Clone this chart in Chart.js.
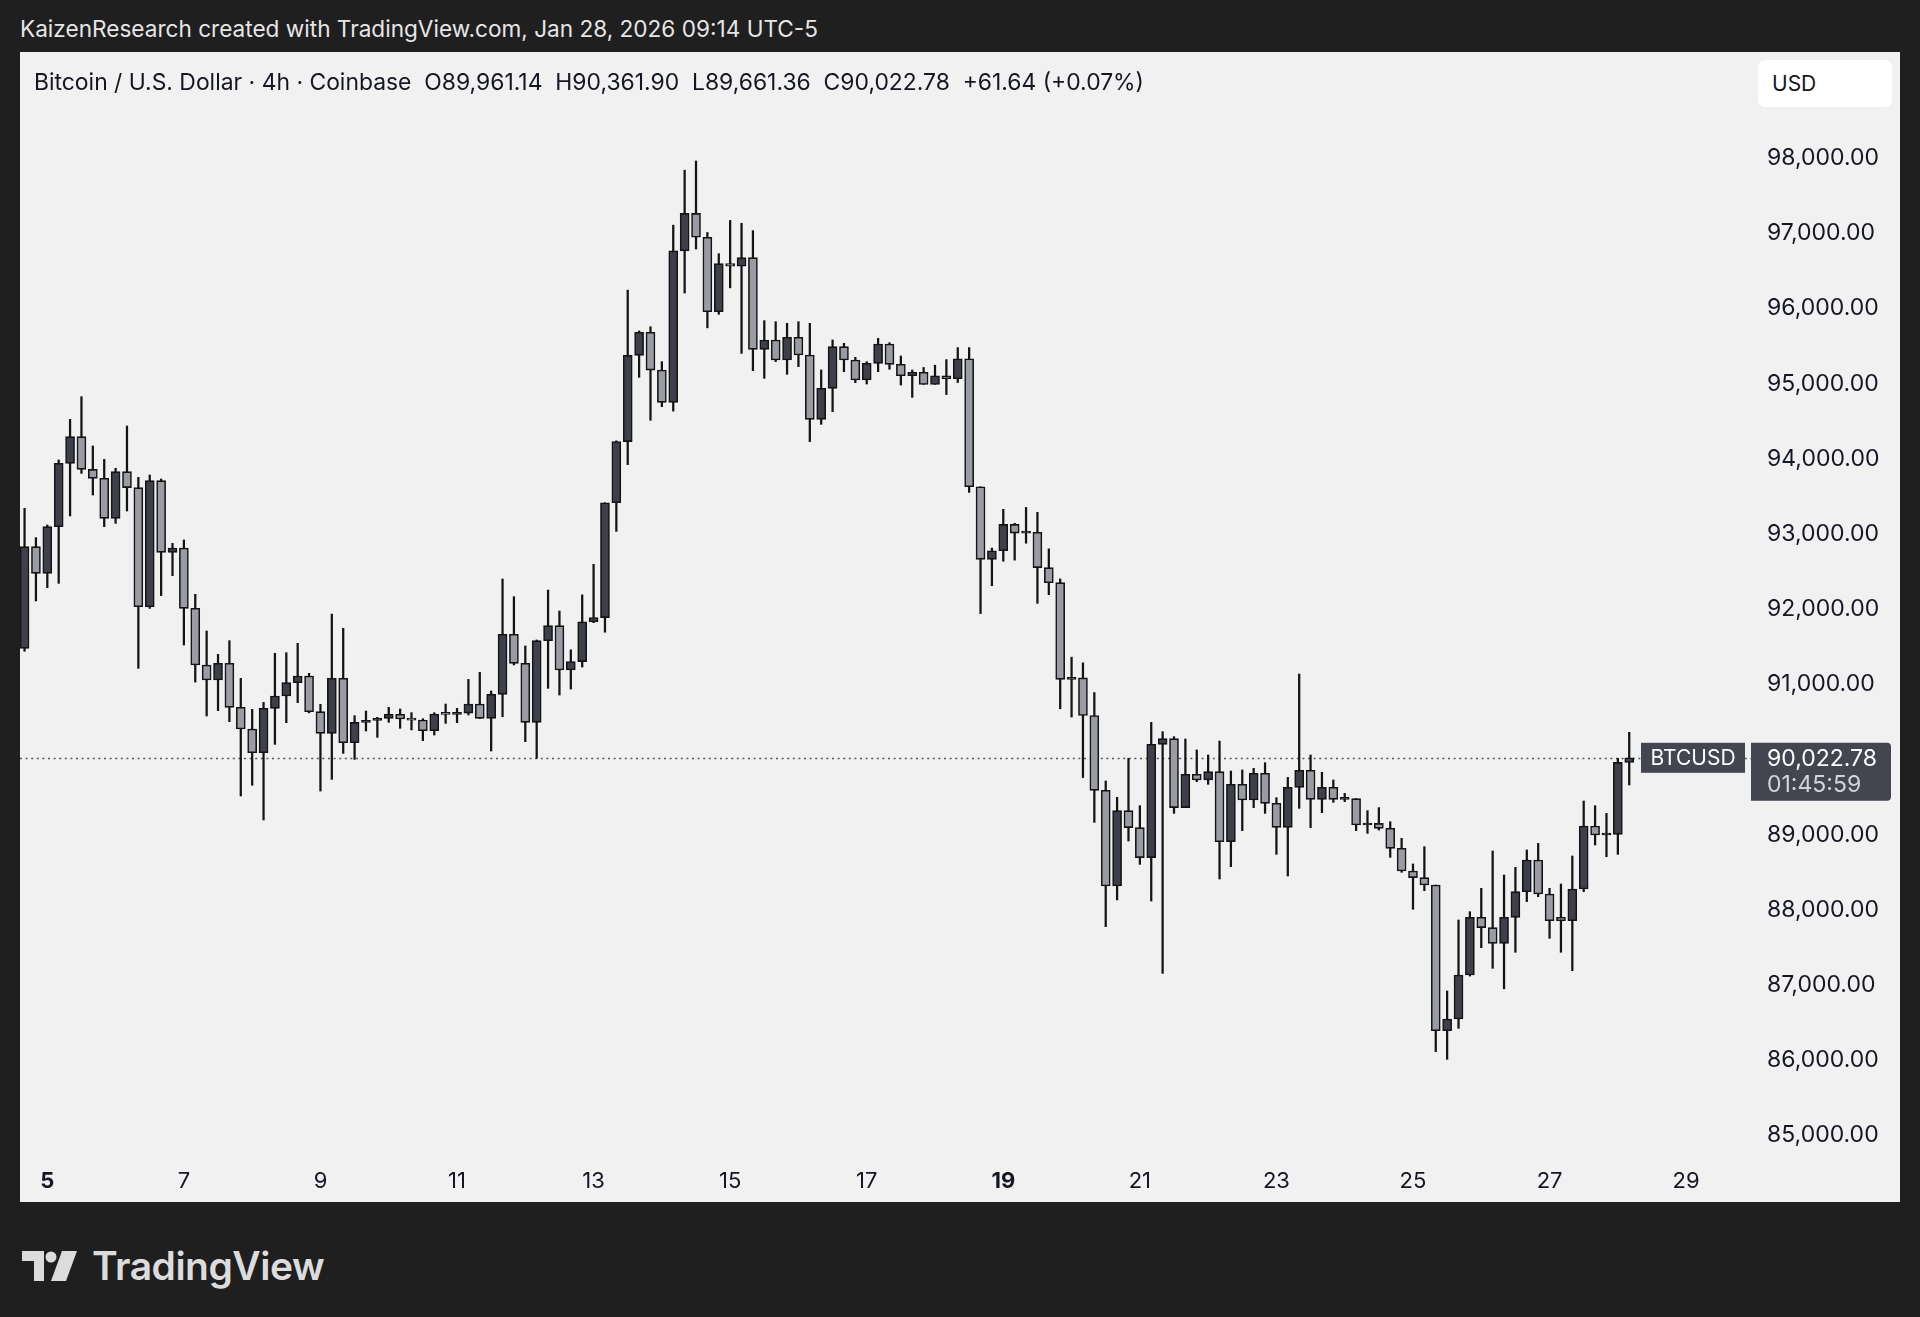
<!DOCTYPE html>
<html>
<head>
<meta charset="utf-8">
<script src="https://cdn.jsdelivr.net/npm/chart.js@4.4.1/dist/chart.umd.min.js"></script>
<style>
html, body { margin: 0; padding: 0; background: #1f1f1f; width: 1920px; height: 1317px; overflow: hidden; font-family: Inter, "Noto Sans", sans-serif; }
#credit { position: absolute; left: 20px; top: 15px; color: #e6e6e6; font-size: 22.6px; }
#panel { position: absolute; left: 20px; top: 52px; width: 1880px; height: 1150px; background: #f1f1f1; }
#legend { position: absolute; left: 14px; top: 16px; font-size: 22.9px; color: #131722; white-space: pre; }
#usd { position: absolute; left: 1738px; top: 8px; width: 134px; height: 47px; background: #fff; border-radius: 7px; font-size: 21px; color: #131722; line-height: 47px; box-sizing: border-box; padding-left: 14px; }
#logo { position: absolute; left: 22px; top: 1242px; color: #dcdcdc; display: flex; align-items: center; gap: 12px; }
#logo span { font-size: 39px; font-weight: 600; letter-spacing: -0.5px; }
canvas { position: absolute; left: 0; top: 0; }
</style>
</head>
<body>
<div id="credit">KaizenResearch created with TradingView.com, Jan 28, 2026 09:14 UTC-5</div>
<div id="panel">
  <canvas id="chart" width="1880" height="1150"></canvas>
  <div id="legend">Bitcoin / U.S. Dollar · 4h · Coinbase  O89,961.14  H90,361.90  L89,661.36  C90,022.78  +61.64 (+0.07%)</div>
  <div id="usd">USD</div>
</div>
<div id="logo">
  <svg width="58" height="30" viewBox="0 0 58 30"><path d="M0 0H22V30H12V10H0Z" fill="#dcdcdc"/><circle cx="29" cy="6" r="5.5" fill="#dcdcdc"/><path d="M40 0H55L44 30H29Z" fill="#dcdcdc"/></svg>
  <span>TradingView</span>
</div>
<script>
// BTCUSD 4h candles, Coinbase
const opens = [91479, 92831, 92476, 93097, 93939, 94294, 93859, 93740, 93208, 93828,
  93616, 92033, 93709, 92756, 92813, 92011, 91257, 91058, 91279, 90694,
  90406, 90091, 90681, 90845, 91022, 91111, 90636, 90348, 91080, 90224,
  90494, 90520, 90548, 90601, 90539, 90525, 90384, 90605, 90600, 90618,
  90738, 90548, 90867, 91665, 91279, 90494, 91581, 91780, 91191, 91303,
  91830, 91888, 93415, 94229, 95375, 95683, 95180, 94751, 96765, 97263,
  96946, 95956, 96595, 96561, 96675, 95455, 95580, 95314, 95615, 95380,
  94524, 94937, 95491, 95314, 95048, 95269, 95526, 95256, 95105, 95150,
  94989, 95104, 95064, 95329, 93628, 92662, 92777, 93127, 93012, 93022,
  92552, 92352, 91066, 91086, 90585, 89590, 88318, 89320, 89094, 88695,
  90202, 90277, 89360, 89803, 89728, 89838, 88907, 89670, 89462, 89816,
  89417, 89098, 89630, 89856, 89470, 89630, 89470, 89480, 89129, 89150,
  89085, 88819, 88517, 88429, 88331, 86394, 86549, 87134, 87901, 87764,
  87555, 87901, 88242, 88664, 88211, 87901, 87857, 88278, 89116, 88996,
  89005, 89961.14];
const highs = [93341, 92951, 93119, 93984, 94524, 94826, 94170, 93992, 93873, 94436,
  93753, 93784, 93730, 92875, 92920, 92197, 91709, 91399, 91581, 91080,
  90667, 90760, 91412, 91421, 91545, 91146, 90734, 91935, 91745, 90583,
  90645, 90561, 90694, 90672, 90623, 90543, 90623, 90738, 90681, 91066,
  91159, 90911, 92401, 92166, 91510, 91590, 92254, 91975, 91459, 92190,
  92596, 93415, 94239, 96243, 95700, 95756, 95292, 97107, 97838, 97960,
  97009, 96727, 97170, 97131, 97034, 95837, 95823, 95801, 95823, 95801,
  95181, 95580, 95535, 95349, 95292, 95602, 95544, 95367, 95181, 95214,
  95244, 95319, 95479, 95479, 93628, 92812, 93328, 93142, 93353, 93288,
  92802, 92402, 91361, 91286, 90891, 89714, 89497, 90016, 89386, 90494,
  90370, 90304, 90273, 90127, 90060, 90246, 89847, 89861, 89883, 89958,
  89493, 89763, 91137, 90060, 89830, 89728, 89550, 89480, 89320, 89360,
  89173, 88952, 88611, 88841, 88331, 86921, 87866, 87976, 88287, 88783,
  88464, 88566, 88797, 88885, 88287, 88344, 88717, 89448, 89386, 89284,
  90016, 90361.90];
const lows = [91440, 92108, 92286, 92343, 93239, 93806, 93518, 93097, 93141, 93305,
  91213, 92010, 92180, 92445, 91523, 91030, 90579, 90650, 90503, 89515,
  89657, 89196, 90202, 90490, 90756, 90620, 89581, 89736, 90082, 90002,
  90379, 90295, 90495, 90415, 90393, 90251, 90326, 90481, 90490, 90592,
  90545, 90113, 90570, 91257, 90237, 90016, 90947, 90858, 90937, 91230,
  91820, 91693, 93034, 93922, 95083, 94512, 94693, 94634, 96204, 96790,
  95741, 95922, 96273, 95402, 95172, 95070, 95292, 95123, 95225, 94228,
  94458, 94627, 95158, 95012, 94994, 95158, 95190, 94981, 94817, 94989,
  94989, 94854, 95014, 93553, 91941, 92312, 92637, 92652, 92877, 92077,
  92192, 90675, 90565, 89760, 89164, 87777, 88132, 88916, 88606, 88118,
  87156, 89284, 89360, 89705, 89670, 88411, 88575, 89054, 89360, 89284,
  88739, 88451, 89351, 89094, 89293, 89431, 89439, 89054, 89018, 89062,
  88699, 88500, 88008, 88256, 86115, 86013, 86425, 87120, 87498, 87223,
  86950, 87436, 88110, 88176, 87622, 87436, 87192, 88242, 88863, 88708,
  88739, 89661.36];
const closes = [92831, 92476, 93097, 93939, 94294, 93859, 93740, 93208, 93828, 93616,
  92033, 93709, 92756, 92813, 92011, 91257, 91058, 91279, 90694, 90406,
  90091, 90681, 90845, 91022, 91111, 90636, 90348, 91080, 90224, 90494,
  90520, 90548, 90601, 90539, 90525, 90384, 90605, 90600, 90618, 90738,
  90548, 90867, 91665, 91279, 90494, 91581, 91780, 91191, 91303, 91830,
  91888, 93415, 94229, 95375, 95683, 95180, 94751, 96765, 97263, 96946,
  95956, 96595, 96561, 96675, 95455, 95580, 95314, 95615, 95380, 94524,
  94937, 95491, 95314, 95048, 95269, 95526, 95256, 95105, 95150, 94989,
  95104, 95064, 95329, 93628, 92662, 92777, 93127, 93012, 93022, 92552,
  92352, 91066, 91086, 90585, 89590, 88318, 89320, 89094, 88695, 90202,
  90277, 89360, 89803, 89728, 89838, 88907, 89670, 89462, 89816, 89417,
  89098, 89630, 89856, 89470, 89630, 89470, 89480, 89129, 89150, 89085,
  88819, 88517, 88429, 88331, 86394, 86549, 87134, 87901, 87764, 87555,
  87901, 88242, 88664, 88211, 87857, 87857, 88278, 89116, 88996, 89005,
  89961, 90022.78];

// time axis: January days, bar index of Jan 5 00:00, 6 bars a day
const dayLabels = [5, 7, 9, 11, 13, 15, 17, 19, 21, 23, 25, 27, 29];
const boldDays = [5, 19];
const firstDayBar = 2;
const barsPerDay = 6;
const priceTicks = [85000, 86000, 87000, 88000, 89000, 90000, 91000, 92000, 93000, 94000, 95000, 96000, 97000, 98000];

const lastPrice = closes[closes.length - 1];
const countdown = "01:45:59";
const symbol = "BTCUSD";

const upFill = "#3d404a";
const downFill = "#9a9ca4";
const edge = "#141414";
const fontFamily = "Inter, 'Noto Sans', sans-serif";

const dayTickIdx = dayLabels.map(d => firstDayBar + (d - dayLabels[0]) * barsPerDay);

const bodies = opens.map((o, i) => ({ x: i, y: [o, closes[i]] }));
const wicks = lows.map((l, i) => ({ x: i, y: [l, highs[i]] }));
const bodyColors = opens.map((o, i) => closes[i] >= o ? upFill : downFill);

const fmt = v => v.toLocaleString("en-US", { minimumFractionDigits: 2, maximumFractionDigits: 2 });
const dayOf = v => dayLabels[dayTickIdx.indexOf(v)];

// chart.js pads the area for edge labels; this pane doesn't need that
function noEdgePadding(scale) {
    scale.paddingTop = 0;
    scale.paddingBottom = 0;
    scale.paddingLeft = 0;
    scale.paddingRight = 0;
}

const lastLine = {
    id: "lastLine",
    beforeDatasetsDraw(chart) {
        const { ctx, chartArea, scales } = chart;
        const y = Math.round(scales.y.getPixelForValue(lastPrice)) + 0.5;
        ctx.save();
        ctx.strokeStyle = "#5a5a5a";
        ctx.lineWidth = 1.5;
        ctx.setLineDash([2, 3.6]);
        ctx.beginPath();
        ctx.moveTo(chartArea.left, y);
        ctx.lineTo(chartArea.right, y);
        ctx.stroke();
        ctx.restore();
    },
    afterDraw(chart) {
        const { ctx, chartArea, scales } = chart;
        const y = scales.y.getPixelForValue(lastPrice);
        ctx.save();
        // symbol tag
        ctx.fillStyle = "#434651";
        ctx.fillRect(chartArea.right - 110, y - 15, 104, 30);
        ctx.fillStyle = "#ffffff";
        ctx.font = "21px " + fontFamily;
        ctx.textAlign = "center";
        ctx.textBaseline = "middle";
        ctx.fillText(symbol, chartArea.right - 58, y + 1);
        // price + countdown tag
        ctx.fillStyle = "#434651";
        ctx.beginPath();
        ctx.roundRect(chartArea.right, y - 15, 140, 58, [0, 4, 4, 0]);
        ctx.fill();
        ctx.textAlign = "left";
        ctx.font = "23px " + fontFamily;
        ctx.fillStyle = "#ffffff";
        ctx.fillText(fmt(lastPrice), chartArea.right + 16, y + 1);
        ctx.fillStyle = "#d1d4dc";
        ctx.fillText(countdown, chartArea.right + 16, y + 27);
        ctx.restore();
    }
};

new Chart(document.getElementById("chart"), {
    type: "bar",
    data: {
        datasets: [
            {
                data: bodies,
                backgroundColor: bodyColors,
                borderColor: edge,
                borderWidth: 1.6,
                borderSkipped: false,
                barThickness: 9,
                minBarLength: 2,
                grouped: false,
                order: 0
            },
            {
                data: wicks,
                backgroundColor: edge,
                borderWidth: 0,
                barThickness: 1.6,
                grouped: false,
                order: 1
            }
        ]
    },
    options: {
        responsive: false,
        animation: false,
        layout: { padding: 0 },
        plugins: {
            legend: { display: false },
            tooltip: { enabled: false }
        },
        scales: {
            x: {
                type: "linear",
                min: -0.4,
                max: 151.7,
                offset: false,
                grid: { display: false },
                border: { display: false },
                afterBuildTicks: scale => { scale.ticks = dayTickIdx.map(v => ({ value: v })); },
                afterFit: scale => { scale.height = 50; noEdgePadding(scale); },
                ticks: {
                    autoSkip: false,
                    maxRotation: 0,
                    padding: 8,
                    color: "#131722",
                    font: ctx => ({
                        family: fontFamily,
                        size: 22,
                        weight: ctx.tick && boldDays.includes(dayOf(ctx.tick.value)) ? "bold" : "normal"
                    }),
                    callback: v => String(dayOf(v))
                }
            },
            y: {
                position: "right",
                min: 84780,
                max: 99410,
                grid: { display: false, drawTicks: false },
                border: { display: false },
                afterBuildTicks: scale => { scale.ticks = priceTicks.map(v => ({ value: v })); },
                afterFit: scale => { scale.width = 149; noEdgePadding(scale); },
                ticks: {
                    padding: 16,
                    color: "#131722",
                    font: { family: fontFamily, size: 23 },
                    callback: v => fmt(v)
                }
            }
        }
    },
    plugins: [lastLine]
});
</script>
</body>
</html>
